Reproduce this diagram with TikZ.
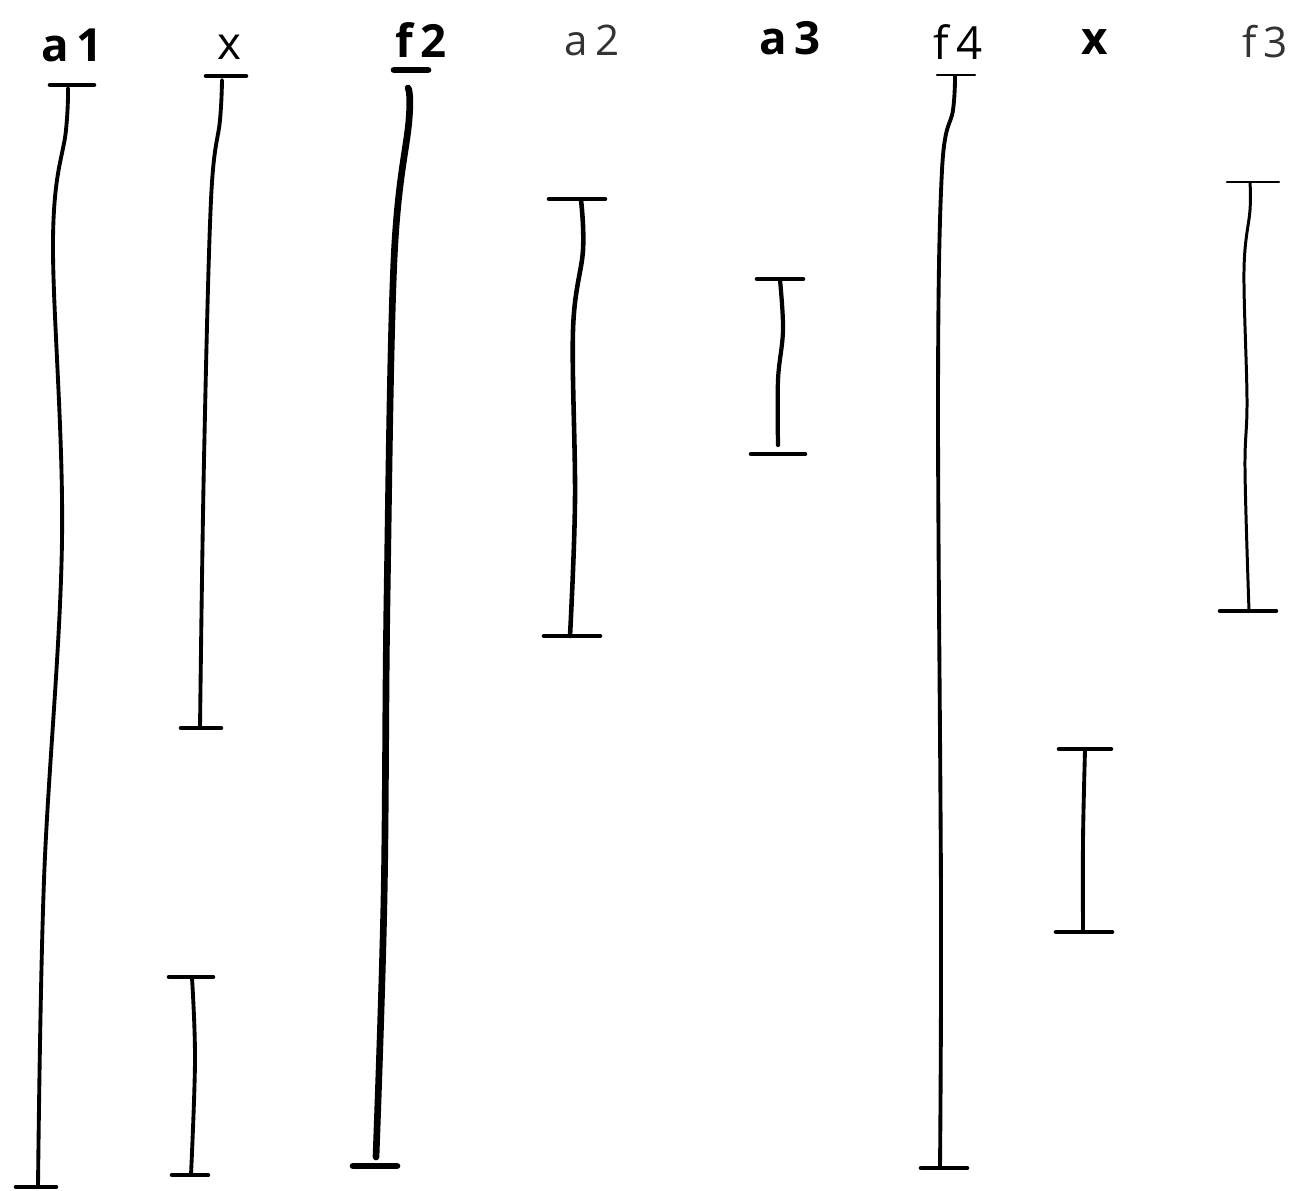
\documentclass[tikz,border=0pt]{standalone}
\usepackage{fontspec}
\setsansfont{Open Sans}
\usepackage{tikz}
\usetikzlibrary{calc}
\colorlet{ink}{black}
\colorlet{inklight}{black!80}

\begin{document}
\begin{tikzpicture}[
    x=0.02cm, y=-0.02cm,
    font=\sffamily,
    pen/.style={draw=ink, line width=2.2pt, line cap=round, line join=round},
    thickpen/.style={pen, line width=3.8pt},
    thinpen/.style={pen, line width=1.4pt},
    capline/.style={pen, line width=2.6pt},
    lbl/.style={font=\sffamily\fontsize{26}{30}\selectfont, text=ink,
                inner sep=0pt, anchor=center},
    lblbold/.style={lbl, font=\sffamily\bfseries\fontsize{26}{30}\selectfont},
    lblthin/.style={lbl, text=inklight, font=\sffamily\fontsize{24}{28}\selectfont},
]

\useasboundingbox (0,0) rectangle (1301,1190);

% ── Interval caps: #1 name, #2 style, #3 x, #4 y, #5 half width ──
\newcommand{\tcap}[5]{
    \coordinate (#1) at (#3,#4);
    \draw[#2] ($(#1)+(-#5,0)$) -- ($(#1)+(#5,0)$);
}

% ════════════════════════════════════════════════════════════
% LABELS
% ════════════════════════════════════════════════════════════
\node[lblbold] (la1)  at (72,45)   {a\,1};
\node[lbl]     (lx1)  at (229,47)  {x};
\node[lblbold] (lf2)  at (421,40)  {f\,2};
\node[lblthin] (la2)  at (592,40)  {a\,2};
\node[lblbold] (la3)  at (790,38)  {a\,3};
\node[lbl]     (lf4)  at (958,42)  {f\,4};
\node[lblbold] (lx2)  at (1095,42) {x};
\node[lblthin] (lf3)  at (1265,42) {f\,3};

% ════════════════════════════════════════════════════════════
% INTERVALS
% ════════════════════════════════════════════════════════════
% a1
\tcap{a1top}{capline}{72}{85}{22}
\tcap{a1bot}{capline}{36}{1187}{20}
\draw[pen] plot[smooth, tension=0.6] coordinates
    {(68,88) (66,130) (53,240) (62,540) (44,880) (38,1187)};

% x (first)
\tcap{x1top}{capline}{226}{76}{20}
\tcap{x1bot}{capline}{201}{728}{20}
\draw[pen] plot[smooth, tension=0.6] coordinates
    {(222,80) (220,120) (211,200) (204,460) (200,728)};

\tcap{x2top}{capline}{191}{977}{22}
\tcap{x2bot}{capline}{190}{1175}{18}
\draw[pen] plot[smooth, tension=0.6] coordinates
    {(192,978) (195,1060) (191,1175)};

% f2
\tcap{f2top}{thickpen}{411}{70}{17}
\tcap{f2bot}{thickpen}{375}{1166}{22}
\draw[thickpen] plot[smooth, tension=0.6] coordinates
    {(408,88) (409,120) (394,260) (387,600) (384,900) (376,1157)};

% a2
\tcap{a2top}{capline}{577}{199}{28}
\tcap{a2bot}{capline}{572}{636}{28}
\draw[pen, line width=2.6pt] plot[smooth, tension=0.6] coordinates
    {(581,200) (583,250) (573,330) (575,500) (570,636)};

% a3
\tcap{a3top}{capline}{780}{279}{23}
\tcap{a3bot}{capline}{778}{454}{27}
\draw[pen, line width=2.4pt] plot[smooth, tension=0.6] coordinates
    {(780,280) (783,330) (778,380) (778,445)};

% f4
\tcap{f4top}{thinpen}{956}{75}{19}
\tcap{f4bot}{capline}{944}{1168}{23}
\draw[pen] plot[smooth, tension=0.6] coordinates
    {(955,76) (953,110) (942,170) (938,400) (941,900) (940,1168)};

% x (second)
\tcap{x3top}{capline}{1085}{749}{26}
\tcap{x3bot}{capline}{1084}{932}{28}
\draw[pen] plot[smooth, tension=0.6] coordinates
    {(1085,750) (1083,840) (1083,932)};

% f3
\tcap{f3top}{thinpen}{1253}{182}{26}
\tcap{f3bot}{capline}{1248}{611}{28}
\draw[pen, line width=1.7pt] plot[smooth, tension=0.6] coordinates
    {(1250,183) (1250,210) (1244,270) (1247,400) (1245,470) (1249,611)};

\end{tikzpicture}
\end{document}
